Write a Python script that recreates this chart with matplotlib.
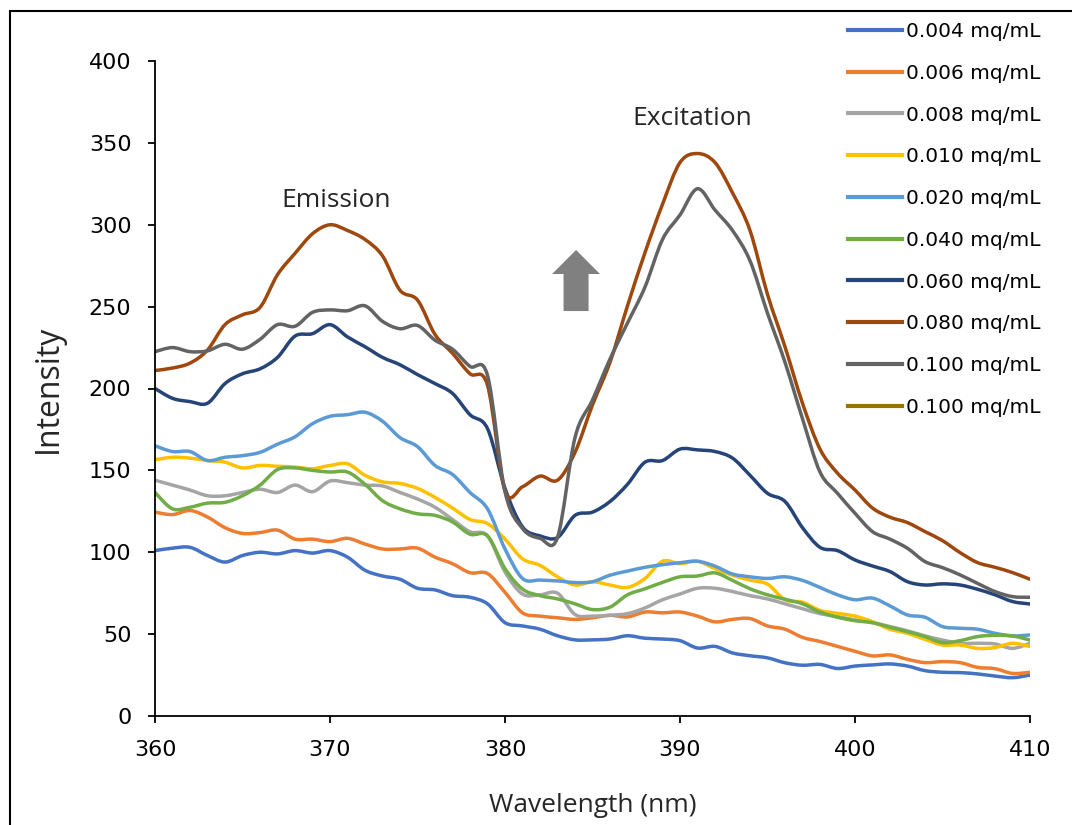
import numpy as np
import matplotlib
matplotlib.use("Agg")
import matplotlib.pyplot as plt
from matplotlib.patches import FancyArrow, Rectangle, PathPatch
from matplotlib.path import Path
from matplotlib.lines import Line2D

# wavelength grid (nm)
wavelength = list(range(360, 411))

# intensity per concentration
c004 = [101, 102.5, 103, 98, 94, 98, 100, 99, 101, 99.5,
        101, 97, 89, 85.5, 83.5, 78, 77, 73.5, 72.5, 68.5,
        57, 55, 53, 49, 46.5, 46.5, 47, 49, 47.5, 47,
        46, 41.5, 42.5, 38.5, 36.8, 35.5, 32.5, 31, 31.5, 29,
        30.5, 31.2, 31.8, 30.5, 27.7, 26.7, 26.5, 25.7, 24.4, 23.4, 25]
c006 = [124.5, 123, 125.5, 121.5, 115, 111.5, 112, 113.5, 108, 108,
        106.5, 108.5, 105, 102, 102, 102.5, 97, 93, 87.5, 87,
        75.5, 63, 61, 60, 59, 60, 61.5, 60.5, 63.5, 63,
        63.5, 61, 57.5, 59, 59.5, 55, 53, 48, 45.5, 42.5,
        39.5, 36.7, 37.3, 34.6, 32.6, 33.2, 32.6, 29.7, 28.9, 26, 26.7]
c008 = [144, 141, 138, 134.5, 134.5, 136.5, 138.5, 136.5, 141, 137,
        143.5, 142.5, 141, 140.5, 136.5, 132.5, 127.5, 120, 112.5, 110,
        88, 74.5, 74, 75, 62, 61, 61.5, 62.5, 66, 71,
        74.5, 78, 78, 76, 73.5, 71.5, 68.5, 65.5, 62.5, 60.7,
        58.7, 57, 54.6, 52, 48.9, 46.4, 44.4, 44.4, 44, 41.3, 44.4]
c010 = [156.5, 158, 157.5, 156, 155, 151.5, 153, 152.5, 152, 151,
        153, 154, 147, 143, 142, 139, 133.5, 127, 120, 117.5,
        108, 96, 92, 85, 80, 82, 80, 78.5, 84, 94.5,
        93, 94.5, 90, 86, 83, 80.5, 71, 69.5, 64.5, 62.7,
        61, 57.6, 53, 50.5, 46.8, 43.4, 43.4, 41.3, 41.8, 44.4, 42.4]
c020 = [165, 161.5, 161.5, 156, 158, 159, 161, 166, 170.5, 178.5,
        183, 184, 185.5, 180, 170, 164.5, 153, 147.5, 136.5, 126.5,
        102, 84, 83, 82.5, 81.5, 82, 86, 88.5, 90.8, 92.4,
        93.6, 94.5, 91.5, 86.7, 85, 84, 85, 82.8, 78.5, 74,
        71, 72, 67.2, 61.7, 60.3, 54.6, 53.6, 53, 50.5, 48.9, 49.5]
c040 = [136.5, 126.5, 127.5, 130, 130.5, 134.5, 141, 150.5, 151.5, 150,
        149, 149, 141.5, 131.5, 126.5, 123.5, 122.5, 118.5, 111, 110,
        90, 77.5, 73.5, 71.5, 68.5, 65, 66.5, 74, 77.7, 81.6,
        85, 85.5, 87.4, 82.8, 77.7, 74, 71.3, 68.5, 63.5, 60.3,
        58.2, 57, 54.2, 51.5, 48.5, 44.8, 46, 48.5, 49.3, 48.9, 46.4]
c060 = [200, 194, 192, 191, 203, 209, 212, 219, 232, 233.5,
        239, 231.5, 225.5, 219, 214.5, 208.5, 203, 197, 184, 175.5,
        139, 115.5, 110, 109, 122.5, 124.5, 131, 141.5, 155, 156,
        163, 162.5, 161.5, 157.5, 147, 136, 131, 115, 103, 101,
        95.3, 91.6, 88.2, 82, 80, 80.7, 80, 77.4, 74, 69.9, 68.4]
c080 = [211, 212.5, 215.5, 223.5, 239, 245, 249.5, 269.5, 282.5, 294.5,
        300, 296.5, 291, 281, 260, 254, 233, 221.5, 209, 202,
        137.5, 140, 146.5, 144, 161, 190, 216, 250.5, 283, 312.5,
        338, 343.5, 338, 319.5, 296.5, 257.5, 225.5, 191, 163, 148.3,
        138, 127, 121.4, 118.1, 112.6, 107.1, 99.8, 93.7, 90.8, 87.6, 83.5]
c100 = [222.5, 225, 222.5, 223, 227, 224, 230, 239, 238, 246.5,
        248, 247.5, 250.5, 241, 236.5, 238.5, 229.5, 224, 213.5, 208,
        137, 114.5, 108.5, 109, 170, 193, 218, 240, 262, 291,
        306, 322, 309, 296.5, 278, 246, 216, 181.5, 149, 136,
        123.8, 112.6, 108, 102.4, 94.3, 90.6, 86.2, 81, 76, 72.9, 72.5]

labels = ['0.004 mq/mL', '0.006 mq/mL', '0.008 mq/mL', '0.010 mq/mL',
          '0.020 mq/mL', '0.040 mq/mL', '0.060 mq/mL', '0.080 mq/mL',
          '0.100 mq/mL', '0.100 mq/mL']
colors = ['#4472C4', '#ED7D31', '#A5A5A5', '#FFC000', '#5B9BD5',
          '#70AD47', '#264478', '#9E480E', '#636363', '#997300']
series = [c004, c006, c008, c010, c020, c040, c060, c080, c100, []]


def smooth_path(xs, ys):
    # Excel-style smoothed line: cubic Bezier through every data point
    p = np.column_stack([xs, ys]).astype(float)
    n = len(p)
    verts = [p[0]]
    codes = [Path.MOVETO]
    for i in range(n - 1):
        p0 = p[i - 1] if i > 0 else p[i]
        p3 = p[i + 2] if i + 2 < n else p[i + 1]
        c1 = p[i] + (p[i + 1] - p0) / 6
        c2 = p[i + 1] - (p3 - p[i]) / 6
        verts += [c1, c2, p[i + 1]]
        codes += [Path.CURVE4] * 3
    return Path(verts, codes)


fig = plt.figure(figsize=(10.72, 8.25), dpi=100)
ax = fig.add_axes([155 / 1072, 1 - 716 / 825, 875 / 1072, 655 / 825])

handles = []
for vals, lab, col in zip(series, labels, colors):
    if len(vals):
        ax.add_patch(PathPatch(smooth_path(wavelength, vals), facecolor='none',
                               edgecolor=col, lw=2.5, joinstyle='round',
                               capstyle='round'))
    handles.append(Line2D([], [], color=col, lw=3, label=lab))

ax.set_xlim(360, 410)
ax.set_ylim(0, 400)
ax.set_xticks(range(360, 411, 10))
ax.set_yticks(range(0, 401, 50))
for s in ['top', 'right']:
    ax.spines[s].set_visible(False)
for s in ['left', 'bottom']:
    ax.spines[s].set_linewidth(1.3)
ax.tick_params(direction='out', length=5, width=1.3, labelsize=16, pad=12)

ax.set_xlabel('Wavelength (nm)', family='Open Sans', fontsize=19, color='#262626')
ax.xaxis.set_label_coords(0.5, -0.117)
ax.set_ylabel('Intensity', family='Open Sans', fontsize=23, color='#262626')
ax.yaxis.set_label_coords(-0.103, 0.5)

ax.text(370.34, 315, 'Emission', family='Open Sans', fontsize=19,
        color='#262626', ha='center', va='center')
ax.text(390.69, 365, 'Excitation', family='Open Sans', fontsize=19,
        color='#262626', ha='center', va='center')

# grey "increase" arrow
ax.add_patch(FancyArrow(384.06, 247.3, 0, 37.3, width=1.43, head_width=2.74,
                        head_length=14.7, length_includes_head=True,
                        color='#808080', lw=0))

ax.legend(handles=handles, loc='upper left',
          bbox_to_anchor=(848 / 1072, 1 - 22 / 825),
          bbox_transform=fig.transFigure, frameon=False, fontsize=14.5,
          handlelength=2.7, handletextpad=0.2, labelspacing=1.13,
          borderpad=0, borderaxespad=0)

# outer chart border (only top and left edges are visible)
fig.patches.append(Rectangle((10 / 1072, -0.1), 1.2, 1.1 - 11 / 825,
                             transform=fig.transFigure, fill=False,
                             edgecolor='black', lw=1.5))

fig.savefig('out.png', dpi=100)
